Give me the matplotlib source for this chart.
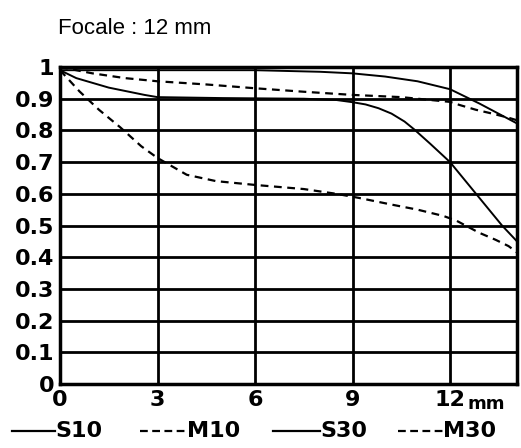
import matplotlib
matplotlib.use("Agg")
import matplotlib.pyplot as plt
from matplotlib.lines import Line2D

# MTF readings, x in mm from image centre
x_s10 = [0, 1, 3, 6, 8, 9, 10, 11, 12, 12.9, 14.06]
y_s10 = [0.99, 0.99, 0.99, 0.99, 0.985, 0.98, 0.97, 0.955, 0.93, 0.885, 0.822]

x_m10 = [0, 1, 2, 3, 4.5, 6, 7.5, 9, 10.5, 12, 12.3, 12.8, 13.3, 13.8, 14.06]
y_m10 = [1.0, 0.98, 0.965, 0.955, 0.945, 0.933, 0.922, 0.912, 0.905, 0.89, 0.88, 0.865, 0.853, 0.84, 0.832]

x_s30 = [0, 0.5, 1.5, 2.6, 3, 5, 7.5, 8.5, 9, 9.4, 9.8, 10.2, 10.6, 10.9, 11.4, 12, 12.8, 13.6, 14.06]
y_s30 = [0.99, 0.965, 0.935, 0.912, 0.905, 0.902, 0.9, 0.896, 0.889, 0.882, 0.87, 0.853, 0.828, 0.803, 0.757, 0.70, 0.60, 0.50, 0.45]

x_m30 = [0, 0.6, 1.2, 1.85, 2.5, 3, 3.9, 4.8, 6, 7.5, 8.5, 9.2, 10.2, 11.0, 11.8, 12.2, 12.9, 13.4, 13.8, 14.06]
y_m30 = [0.99, 0.923, 0.865, 0.81, 0.75, 0.713, 0.66, 0.64, 0.628, 0.615, 0.6, 0.587, 0.566, 0.55, 0.53, 0.515, 0.477, 0.455, 0.435, 0.415]

xticks = [0, 3, 6, 9, 12]
yticks = [0, 0.1, 0.2, 0.3, 0.4, 0.5, 0.6, 0.7, 0.8, 0.9, 1]
ytick_labels = ["0", "0.1", "0.2", "0.3", "0.4", "0.5", "0.6", "0.7", "0.8", "0.9", "1"]
legend_names = ["S10", "M10", "S30", "M30"]

fig = plt.figure(figsize=(5.21, 4.48), dpi=100)
ax = fig.add_axes([0.1152, 0.1429, 0.8771, 0.7075])

dash = (0, (3.5, 2.5))
ax.plot(x_s10, y_s10, "-", color="black", lw=1.4)
ax.plot(x_m10, y_m10, color="black", lw=1.6, linestyle=dash)
ax.plot(x_s30, y_s30, "-", color="black", lw=1.4)
ax.plot(x_m30, y_m30, color="black", lw=1.6, linestyle=dash)

ax.set_xlim(0, 14.06)
ax.set_ylim(0, 1)
ax.set_xticks(xticks)
ax.set_yticks(yticks)
ax.set_xticklabels([str(v) for v in xticks], fontsize=16, fontweight="bold")
ax.set_yticklabels(ytick_labels, fontsize=16, fontweight="bold")
ax.tick_params(length=0, pad=4)
ax.grid(True, color="black", lw=2)
for s in ax.spines.values():
    s.set_linewidth(2.5)

fig.text(0.897, 0.087, "mm", fontsize=13, fontweight="bold", va="baseline")
fig.text(0.111, 0.925, "Focale : 12 mm", fontsize=16, family="Liberation Sans")

# legend row under the chart, drawn by hand (pixel positions / 521, 448)
W, H = 521.0, 448.0
starts = [12, 140, 273, 398]
ends = [55, 187, 320, 443]
styles = ["-", (0, (3.5, 2.0)), "-", (0, (3.5, 2.0))]
yl = 1 - 431 / H
for name, a, b, st in zip(legend_names, starts, ends, styles):
    fig.add_artist(Line2D([a / W, b / W], [yl, yl], transform=fig.transFigure,
                          color="black", lw=1.6, linestyle=st))
    fig.text(b / W, yl, name, fontsize=16, fontweight="bold", va="center", ha="left")

fig.savefig("out.png", dpi=100)
